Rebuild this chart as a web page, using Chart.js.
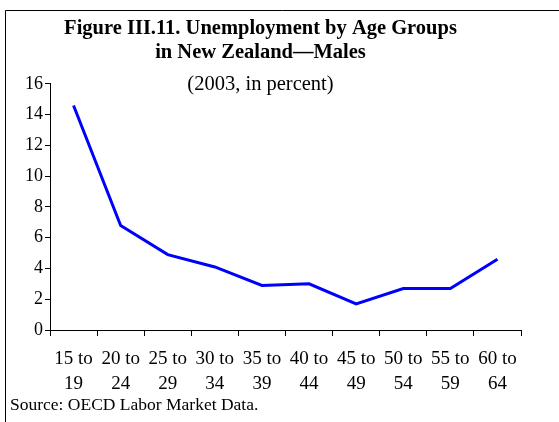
<!DOCTYPE html>
<html>
<head>
<meta charset="utf-8">
<script src="https://cdn.jsdelivr.net/npm/chart.js@4/dist/chart.umd.min.js"></script>
<style>
  body { margin: 0; background: #fff; }
</style>
</head>
<body>
<canvas id="chart" width="559" height="422"></canvas>
<script>
// valeurs
let ageGroups = [["15 to", "19"], ["20 to", "24"], ["25 to", "29"], ["30 to", "34"], ["35 to", "39"],
                 ["40 to", "44"], ["45 to", "49"], ["50 to", "54"], ["55 to", "59"], ["60 to", "64"]];
let maleRates = [14.6, 6.8, 4.9, 4.1, 2.9, 3.0, 1.7, 2.7, 2.7, 4.6];
let titleLines = ["Figure III.11. Unemployment by Age Groups", "in New Zealand\u2014Males"];
let subtitleText = "(2003, in percent)";
let sourceText = "Source: OECD Labor Market Data.";

let serif = "'Liberation Serif', 'Times New Roman', serif";

// cadre + source
let frame = {
    id: 'frame',
    beforeDraw(chart) {
        let c = chart.ctx;
        c.save();
        c.fillStyle = "#fff";
        c.fillRect(0, 0, chart.width, chart.height);
        c.strokeStyle = "#000";
        c.lineWidth = 1;
        c.beginPath();
        c.moveTo(5.5, chart.height);
        c.lineTo(5.5, 10.5);
        c.lineTo(chart.width, 10.5);
        c.stroke();
        c.restore();
    },
    afterDraw(chart) {
        let c = chart.ctx;
        c.save();
        c.fillStyle = "#000";
        c.font = "17.5px " + serif;
        c.textBaseline = "middle";
        c.textAlign = "left";
        c.fillText(sourceText, 10, 405);
        c.restore();
    }
};

let ctx = document.getElementById('chart');
new Chart(ctx, {
    type: 'line',
    data: {
        labels: ageGroups,
        datasets: [{
            label: 'Males',
            data: maleRates,
            borderColor: "#0000ff",
            borderWidth: 3,
            pointRadius: 0,
            tension: 0,
            fill: false
        }]
    },
    options: {
        responsive: false,
        animation: false,
        devicePixelRatio: 1,
        layout: { padding: { left: 0, right: 38, top: 0, bottom: 0 } },
        plugins: {
            legend: { display: false },
            tooltip: { enabled: false },
            title: {
                display: true,
                text: titleLines,
                color: "#000",
                font: { family: serif, size: 20.5, weight: 'bold', lineHeight: 1.17 },
                padding: { top: 17, bottom: 0 }
            },
            subtitle: {
                display: true,
                text: subtitleText,
                color: "#000",
                font: { family: serif, size: 20.5, weight: 'normal', lineHeight: 1.17 },
                padding: { top: 8, bottom: -13 }
            }
        },
        scales: {
            x: {
                offset: true,
                afterFit: function (scale) { scale.height = 92; },
                grid: {
                    offset: true,
                    drawOnChartArea: false,
                    drawTicks: true,
                    tickLength: 6,
                    color: "#000"
                },
                border: { display: true, color: "#000", width: 1 },
                ticks: {
                    color: "#000",
                    autoSkip: false,
                    maxRotation: 0,
                    padding: 10,
                    font: { family: serif, size: 19, lineHeight: 1.35 }
                }
            },
            y: {
                min: 0,
                max: 16,
                afterFit: function (scale) { scale.width = 50; },
                grid: {
                    drawOnChartArea: false,
                    drawTicks: true,
                    tickLength: 5,
                    color: "#000"
                },
                border: { display: true, color: "#000", width: 1 },
                ticks: {
                    stepSize: 2,
                    color: "#000",
                    padding: 2,
                    font: { family: serif, size: 18 }
                }
            }
        }
    },
    plugins: [frame]
});
</script>
</body>
</html>
